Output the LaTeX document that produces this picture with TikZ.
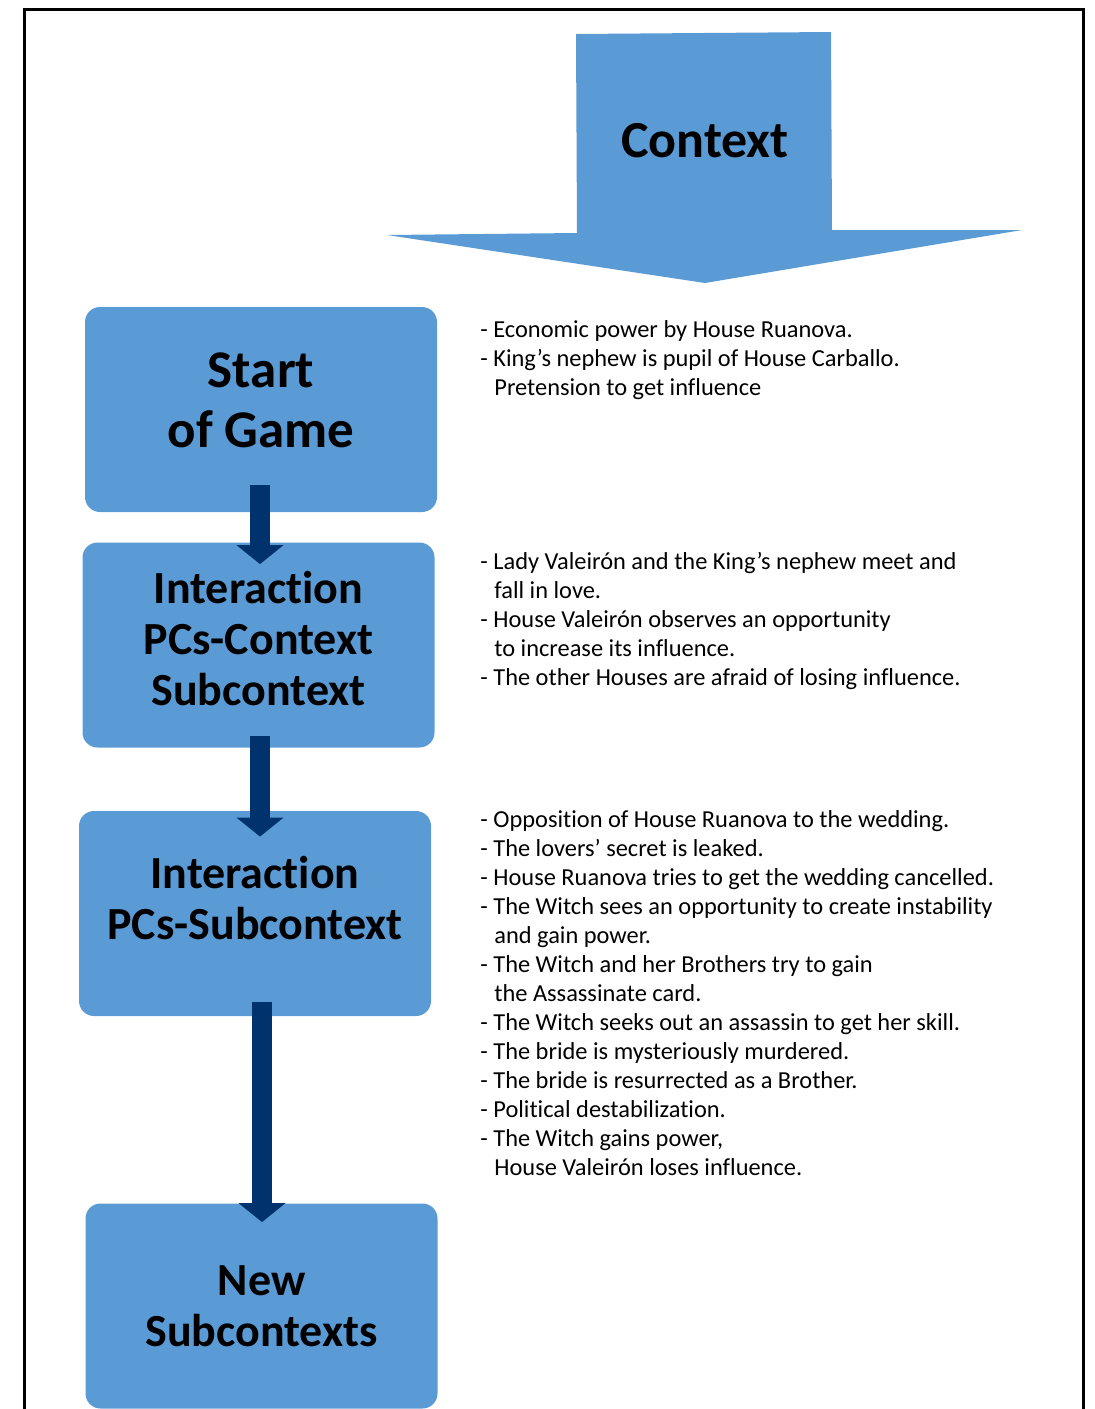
\documentclass[tikz,border=0pt]{standalone}
\usepackage{fontspec}
\setmainfont{Carlito}[Ligatures=NoCommon]
\usetikzlibrary{arrows.meta}

\definecolor{boxblue}{HTML}{5B9BD5}
\definecolor{navy}{HTML}{00336E}

\begin{document}
\begin{tikzpicture}[x=0.5pt, y=-0.5pt,
    stage/.style={fill=boxblue, rounded corners=7.5pt, minimum width=176pt, minimum height=102.5pt, align=center, inner sep=0pt, font=\fontsize{23}{25.5}\selectfont\bfseries},
    notes/.style={anchor=north west, align=left, inner sep=0pt, font=\fontsize{12.2}{14.5}\selectfont},
    flow/.style={draw=navy, line width=10pt, -{Triangle[width=23pt, length=9.5pt]}}]
    \useasboundingbox (0,0) rectangle (1094,1409);
    \draw[line width=1.5pt] (24,1409) -- (24,9) -- (1083,9) -- (1083,1409);

    % big context arrow
    \fill[boxblue] (576,34) -- (831,32) -- (832,230) -- (1022,230) -- (705,283) -- (387,235) -- (577,233) -- cycle;
    \node (ctx) at (705,141) {\fontsize{26}{30}\selectfont\bfseries Context};

    \node[stage, font=\fontsize{26.5}{30}\selectfont\bfseries, text depth=9.5pt] (start) at (261,409.5) {Start\\of Game};
    \node[stage, text depth=7pt] (pcctx) at (258.5,645) {Interaction\\PCs-Context\\Subcontext};
    \node[stage, text depth=15.5pt] (pcsub) at (255,913.5) {Interaction\\PCs-Subcontext};
    \node[stage] (newsub) at (261.5,1306) {New\\Subcontexts};

    \draw[flow] ([xshift=-0.5pt, yshift=13.5pt]start.south) -- ([xshift=0.75pt, yshift=-11pt]pcctx.north);
    \draw[flow] ([xshift=0.75pt, yshift=6pt]pcctx.south) -- ([xshift=2.5pt, yshift=-13pt]pcsub.north);
    \draw[flow] ([xshift=3.5pt, yshift=7pt]pcsub.south) -- ([xshift=0.25pt, yshift=-9.5pt]newsub.north);

    \node[notes] (startnotes) at (480,320.5) {- Economic power by House Ruanova.\\- King’s nephew is pupil of House Carballo.\\\hspace*{7pt}Pretension to get influence};
    \node[notes] (ctxnotes) at (480,551.5) {- Lady Valeirón and the King’s nephew meet and\\\hspace*{7pt}fall in love.\\- House Valeirón observes an opportunity\\\hspace*{7pt}to increase its influence.\\- The other Houses are afraid of losing influence.};
    \node[notes] (subnotes) at (480,810.5) {- Opposition of House Ruanova to the wedding.\\- The lovers’ secret is leaked.\\- House Ruanova tries to get the wedding cancelled.\\- The Witch sees an opportunity to create instability\\\hspace*{7pt}and gain power.\\- The Witch and her Brothers try to gain\\\hspace*{7pt}the Assassinate card.\\- The Witch seeks out an assassin to get her skill.\\- The bride is mysteriously murdered.\\- The bride is resurrected as a Brother.\\- Political destabilization.\\- The Witch gains power,\\\hspace*{7pt}House Valeirón loses influence.};
\end{tikzpicture}
\end{document}
